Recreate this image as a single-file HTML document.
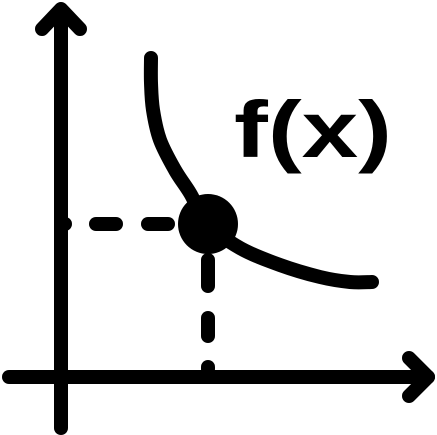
<!DOCTYPE html>
<html><head><meta charset="utf-8"><style>
html,body{margin:0;padding:0;background:#fff;width:437px;height:435px;overflow:hidden}
svg{display:block}
</style></head><body>
<svg width="437" height="435" viewBox="0 0 437 435">
<g stroke="#000" stroke-width="14" stroke-linecap="round" stroke-linejoin="round" fill="none">
<line x1="61" y1="10" x2="61" y2="428"/>
<polyline points="42,29 61,9 80,29"/>
<line x1="9" y1="377" x2="428" y2="377"/>
<polyline points="409,358 428,377 409,396"/>
<path id="curve" d=""/>
<g>
<line x1="64" y1="224" x2="65" y2="224"/>
<line x1="96" y1="224" x2="116" y2="224"/>
<line x1="148" y1="224" x2="168" y2="224"/>
</g>
<g>
<line x1="208" y1="260" x2="208" y2="286"/>
<line x1="208" y1="318" x2="208" y2="336"/>
<line x1="208" y1="367" x2="208" y2="369"/>
</g>
</g>
<circle cx="208" cy="224" r="30" fill="#000"/>
<text x="234" y="157" font-family="Liberation Sans, sans-serif" font-weight="bold" font-size="80" textLength="158" lengthAdjust="spacingAndGlyphs" fill="#000">f(x)</text>
</svg>
<script>
const curveX=[151,151,153,160,175,190,208,240,280,320,350,372];
const curveY=[58,83,110,140,170,193,224,248,265,277,282,282];
let d='M'+curveX[0]+','+curveY[0];
for(let i=0;i<curveX.length-1;i++){
  const x0=curveX[Math.max(i-1,0)],y0=curveY[Math.max(i-1,0)];
  const x1=curveX[i],y1=curveY[i],x2=curveX[i+1],y2=curveY[i+1];
  const j=Math.min(i+2,curveX.length-1);
  const x3=curveX[j],y3=curveY[j];
  d+=' C'+(x1+(x2-x0)/6)+','+(y1+(y2-y0)/6)+' '+(x2-(x3-x1)/6)+','+(y2-(y3-y1)/6)+' '+x2+','+y2;
}
document.getElementById('curve').setAttribute('d',d);
</script>
</body></html>
